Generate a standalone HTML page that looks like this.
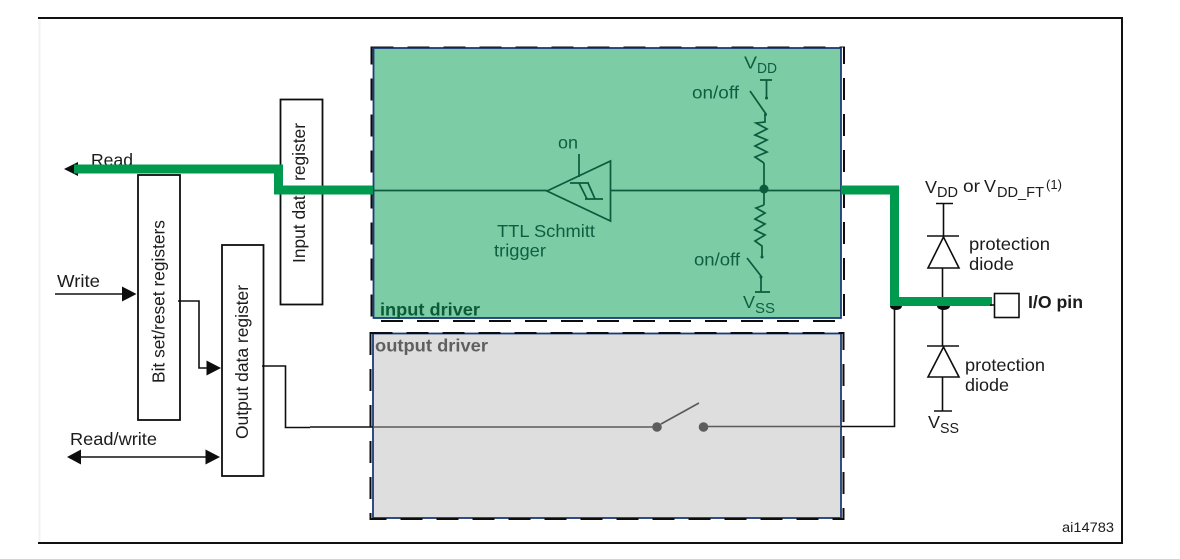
<!DOCTYPE html>
<html>
<head>
<meta charset="utf-8">
<style>
html,body{margin:0;padding:0;background:#fff;width:1180px;height:559px;overflow:hidden}
svg{display:block;font-family:"Liberation Sans",sans-serif}
text{fill:#1a1a1a;font-size:17.500px}
.g text,text.g{fill:#0f5f40}
</style>
</head>
<body>
<svg width="1180" height="559" viewBox="0 0 1180 559" xmlns="http://www.w3.org/2000/svg">
<defs><filter id="b" x="0" y="0" width="100%" height="100%"><feGaussianBlur stdDeviation="0.35"/></filter></defs>
<rect width="1180" height="559" fill="#fff"/>
<!-- outer frame -->
<path d="M39.500 20V542" stroke="#f2f2f2" stroke-width="2" fill="none"/>
<path d="M38 18H1122V543H38" stroke="#111" stroke-width="2" fill="none"/>
<g filter="url(#b)">
<!-- input driver -->
<rect x="373.500" y="48" width="467.500" height="270" fill="#7bcca6" stroke="#1c3a78" stroke-width="1.800"/>
<rect x="371.500" y="46.500" width="472.500" height="274.500" fill="none" stroke="#111" stroke-width="2" stroke-dasharray="22 14"/>
<!-- output driver -->
<rect x="373" y="333.500" width="468" height="184.500" fill="#dedede" stroke="#1c3a78" stroke-width="1.800"/>
<rect x="370.500" y="333" width="473" height="186" fill="none" stroke="#111" stroke-width="2" stroke-dasharray="22 14"/>

<!-- registers -->
<rect x="280.500" y="99.500" width="42" height="205" fill="#fff" stroke="#111" stroke-width="1.800"/>
<rect x="138" y="175" width="42" height="245" fill="#fff" stroke="#111" stroke-width="1.800"/>
<rect x="222" y="245" width="41.500" height="231" fill="#fff" stroke="#111" stroke-width="1.800"/>
<text transform="translate(164.500 383) rotate(-90)" textLength="163" lengthAdjust="spacingAndGlyphs">Bit set/reset registers</text>
<text transform="translate(248 439) rotate(-90)" textLength="154" lengthAdjust="spacingAndGlyphs">Output data register</text>
<text transform="translate(305 263) rotate(-90)" textLength="140" lengthAdjust="spacingAndGlyphs">Input data register</text>

<!-- left labels -->
<text x="91" y="166" textLength="42" lengthAdjust="spacingAndGlyphs">Read</text>
<text x="57" y="287" textLength="43" lengthAdjust="spacingAndGlyphs">Write</text>
<text x="70" y="445" textLength="87" lengthAdjust="spacingAndGlyphs">Read/write</text>

<!-- left wires -->
<g fill="none" stroke="#111" stroke-width="1.600">
<path d="M55 294H124"/>
<path d="M178 301H199V368H209"/>
<path d="M78 457H208"/>
<path d="M262 366H285.500V427.500H310"/>
<path d="M310 427H373"/>
</g>
<g fill="#111">
<polygon points="136.500,294 122,286.500 122,301.500"/>
<polygon points="221,368 206.500,360.500 206.500,375.500"/>
<polygon points="220,457 205.500,449.500 205.500,464.500"/>
<polygon points="67,457 81,449.500 81,464.500"/>
<polygon points="64,169 78,162 78,176"/>
</g>

<!-- thick green buses -->
<g fill="none" stroke="#009a50" stroke-width="9">
<path d="M74 169H278.500V190H373" stroke-linejoin="miter"/>
<path d="M841 190H894.500V301.500H992" stroke-linejoin="miter"/>
</g>

<!-- input driver circuit -->
<g fill="none" stroke="#0f5a3c" stroke-width="1.700">
<path d="M374 190.500H547"/>
<polygon points="547,191 610.500,161 610.500,221"/>
<path d="M611 190.500H841"/>
<path d="M579 154V177"/>
<path d="M570 183H589M585 199H603M579 183L587 199M588 183L595 199"/>
<path d="M764 163V205"/>
<path d="M760 80H772M766.500 80V98M750 91L766 114"/>
<path d="M765 115V122L756 123L767 129L755 135L767 140L755 146L767 152L755 157L764 163"/>
<path d="M764 205L756 208L765 213L755 219L765 224L755 230L765 235L755 241L762 246V257"/>
<path d="M747 258L761 276M761 277V292M755 292H770"/>
</g>
<g fill="#0f5a3c">
<circle cx="764" cy="189" r="4.500"/>
<circle cx="766.500" cy="98" r="1.500"/>
<circle cx="765.500" cy="114.500" r="1.500"/>
<circle cx="762" cy="257" r="1.500"/>
<circle cx="761" cy="277" r="1.500"/>
</g>
<g class="g">
<text x="558" y="148.500" textLength="20" lengthAdjust="spacingAndGlyphs">on</text>
<text x="497" y="237" textLength="98" lengthAdjust="spacingAndGlyphs">TTL Schmitt</text>
<text x="494" y="256.500" textLength="52" lengthAdjust="spacingAndGlyphs">trigger</text>
<text x="692" y="98.500" textLength="47" lengthAdjust="spacingAndGlyphs">on/off</text>
<text x="694" y="265.500" textLength="46" lengthAdjust="spacingAndGlyphs">on/off</text>
<text x="744" y="68.500" textLength="13" lengthAdjust="spacingAndGlyphs">V</text>
<text x="757" y="73" style="font-size:14.500px" textLength="20" lengthAdjust="spacingAndGlyphs">DD</text>
<text x="743" y="308" textLength="12" lengthAdjust="spacingAndGlyphs">V</text>
<text x="755" y="313" style="font-size:14.500px" textLength="20" lengthAdjust="spacingAndGlyphs">SS</text>
<text x="380" y="315.500" style="font-weight:bold;fill:#0b5a38" textLength="100" lengthAdjust="spacingAndGlyphs">input driver</text>
</g>
<text x="375" y="351.500" style="font-weight:bold;fill:#5e5e5e" textLength="113" lengthAdjust="spacingAndGlyphs">output driver</text>

<!-- output driver circuit -->
<g fill="none" stroke="#5a5a5a" stroke-width="1.600">
<path d="M373 427H657"/>
<path d="M704 426.500H841"/>
<path d="M661 424L699 403"/>
</g>
<circle cx="657" cy="427" r="4.800" fill="#5d5d5d"/>
<circle cx="703.500" cy="427" r="4.800" fill="#5d5d5d"/>

<!-- right circuit -->
<g fill="none" stroke="#111" stroke-width="1.600">
<path d="M841 426.500H894.500V306"/>
<path d="M936 203.500H953M943.500 203.500V237M927 236H959"/>
<polygon points="943.500,237 928,268 959,268" fill="#fff"/>
<path d="M942.500 268V297"/>
<path d="M942.500 306V346M927 346H959"/>
<polygon points="943.500,347 928,377 959,377" fill="#fff"/>
<path d="M942.500 377V411M934 411H952"/>
<rect x="994.500" y="293.500" width="24.500" height="24" fill="#fff"/>
<path d="M990 305H994"/>
</g>
<path d="M890 306H902A6 4 0 0 1 890 306ZM937 306H950A6.500 4 0 0 1 937 306Z" fill="#111"/>

<!-- right labels -->
<text x="925" y="193" textLength="12" lengthAdjust="spacingAndGlyphs">V</text>
<text x="937" y="197" style="font-size:14.500px" textLength="21" lengthAdjust="spacingAndGlyphs">DD</text>
<text x="963" y="192" textLength="17" lengthAdjust="spacingAndGlyphs">or</text>
<text x="984" y="192" textLength="12" lengthAdjust="spacingAndGlyphs">V</text>
<text x="997" y="197" style="font-size:14.500px" textLength="47" lengthAdjust="spacingAndGlyphs">DD_FT</text>
<text x="1046" y="189" style="font-size:12.500px" textLength="16" lengthAdjust="spacingAndGlyphs">(1)</text>
<text x="969" y="250" textLength="81" lengthAdjust="spacingAndGlyphs">protection</text>
<text x="969" y="270" textLength="45" lengthAdjust="spacingAndGlyphs">diode</text>
<text x="965" y="371" textLength="80" lengthAdjust="spacingAndGlyphs">protection</text>
<text x="965" y="391" textLength="44" lengthAdjust="spacingAndGlyphs">diode</text>
<text x="928" y="428" textLength="12" lengthAdjust="spacingAndGlyphs">V</text>
<text x="940" y="433" style="font-size:14.500px" textLength="19" lengthAdjust="spacingAndGlyphs">SS</text>
<text x="1028" y="308" style="font-weight:bold" textLength="55" lengthAdjust="spacingAndGlyphs">I/O pin</text>
<text x="1062" y="532" style="font-size:14px" textLength="52" lengthAdjust="spacingAndGlyphs">ai14783</text>
</g>
</svg>
</body>
</html>
